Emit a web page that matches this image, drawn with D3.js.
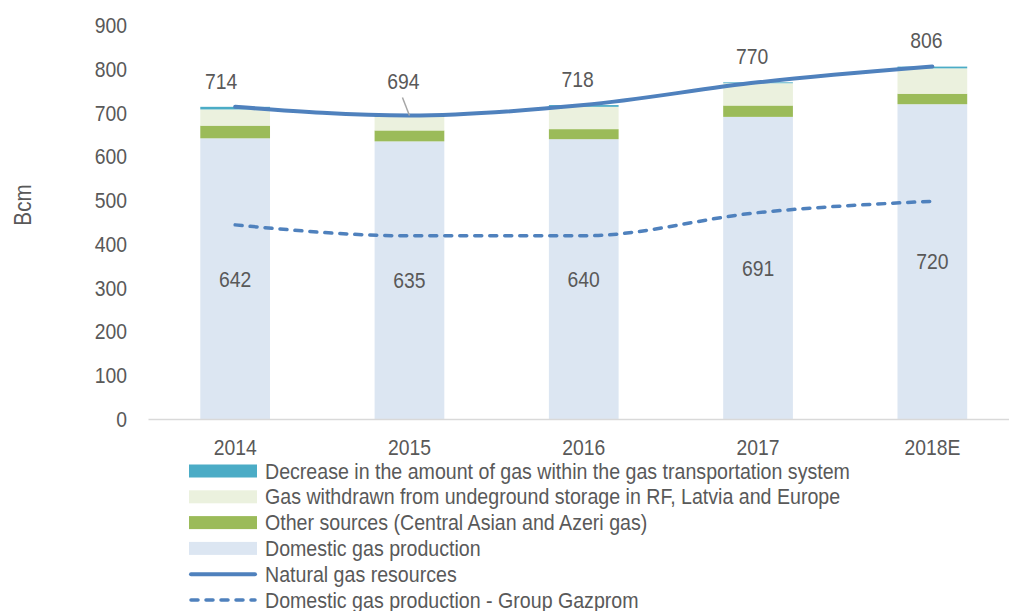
<!DOCTYPE html>
<html>
<head>
<meta charset="utf-8">
<script src="https://cdn.jsdelivr.net/npm/d3@7"></script>
<style>
  body { margin: 0; background: #fff; }
  text { font-family: "Liberation Sans Narrow", "Arial Narrow", "Liberation Sans", sans-serif; fill: #595959; }
</style>
</head>
<body>
<script>

// Chart data (Bcm)
const years = ["2014", "2015", "2016", "2017", "2018E"];
const domesticProduction = [642, 635, 640, 691, 720];
const otherSources = [29, 25, 23, 26, 24];
const storageWithdrawal = [37, 31, 51, 51, 58];
const transportDecrease = [6, 3, 4, 2, 4];
const totalResources = [714, 694, 718, 770, 806];
const gazpromProduction = [444, 419, 419, 472, 498];
const yTicks = [0, 100, 200, 300, 400, 500, 600, 700, 800, 900];

const seriesNames = [
    "Decrease in the amount of gas within the gas transportation system",
    "Gas withdrawn from undeground storage in RF, Latvia and Europe",
    "Other sources (Central Asian and Azeri gas)",
    "Domestic gas production",
    "Natural gas resources",
    "Domestic gas production - Group Gazprom"
];

// Svg size
let width = 1009;
let height = 611;

// Plot area
let plotLeft = 148;
let plotRight = 1019.5;
let plotTop = 25.5;
let plotBottom = 419;

// Narrow look: squeeze text horizontally
let squeeze = 0.86;

const colors = {
    domestic: "#DCE6F2",
    other: "#9BBB59",
    storage: "#EBF1DE",
    decrease: "#4BACC6",
    line: "#4F81BD"
};

const svg = d3.select("body").append("svg")
    .attr("width", width)
    .attr("height", height)
    .attr("viewBox", [0, 0, width, height]);

// Scales
let xScale = d3.scaleBand().domain(years).range([plotLeft, plotRight]).paddingInner(0.6).paddingOuter(0.3);
let yScale = d3.scaleLinear().domain([0, 900]).range([plotBottom, plotTop]);

// Add a squeezed text label at x, y
function addLabel(parent, x, y, str, size, anchor) {
    parent.append("g")
        .attr("transform", `translate(${x}, ${y}) scale(${squeeze}, 1)`)
        .append("text")
        .attr("dy", "0.35em")
        .attr("text-anchor", anchor || "middle")
        .style("font-size", size + "px")
        .text(str);
}

// Stack the bar components, bottom first
const stackKeys = ["domestic", "other", "storage", "decrease"];
const rows = years.map((y, i) => ({
    year: y,
    domestic: domesticProduction[i],
    other: otherSources[i],
    storage: storageWithdrawal[i],
    decrease: transportDecrease[i]
}));
const stacked = d3.stack().keys(stackKeys)(rows);

svg.append("g")
    .selectAll("g")
    .data(stacked)
    .enter()
    .append("g")
    .attr("fill", s => colors[s.key])
    .selectAll("rect")
    .data(s => s)
    .enter()
    .append("rect")
    .attr("x", d => xScale(d.data.year))
    .attr("width", xScale.bandwidth())
    .attr("y", d => yScale(d[1]))
    .attr("height", d => yScale(d[0]) - yScale(d[1]));

// X axis
let xAxis = d3.axisBottom(xScale).tickSize(0).tickPadding(20);
let xAxisRef = svg.append("g")
    .attr("transform", `translate(0, ${plotBottom})`)
    .call(xAxis);
xAxisRef.select(".domain").attr("stroke", "#D9D9D9").attr("stroke-width", 1.5);
xAxisRef.selectAll("text")
    .style("font-size", "22.5px")
    .attr("fill", "#595959")
    .attr("transform", `scale(${squeeze}, 1)`);

// Y axis (labels only)
let yAxis = d3.axisLeft(yScale).tickValues(yTicks).tickSize(0).tickPadding(21);
let yAxisRef = svg.append("g")
    .attr("transform", `translate(${plotLeft}, 0)`)
    .call(yAxis);
yAxisRef.select(".domain").remove();
yAxisRef.selectAll("text")
    .style("font-size", "22.5px")
    .attr("fill", "#595959")
    .attr("x", -21 / squeeze)
    .attr("transform", `scale(${squeeze}, 1)`);

svg.append("text")
    .attr("transform", `translate(23, 205) rotate(-90) scale(${squeeze}, 1)`)
    .attr("text-anchor", "middle")
    .attr("dy", "0.35em")
    .style("font-size", "24px")
    .text("Bcm");

// Lines
let cx = (i) => xScale(years[i]) + xScale.bandwidth() / 2;
let line = d3.line()
    .x((v, i) => cx(i))
    .y(v => yScale(v))
    .curve(d3.curveMonotoneX);

svg.append("path")
    .attr("d", line(gazpromProduction))
    .attr("fill", "none")
    .attr("stroke", colors.line)
    .attr("stroke-width", 3.5)
    .attr("stroke-dasharray", "7,8")
    .attr("stroke-linecap", "round");

svg.append("path")
    .attr("d", line(totalResources))
    .attr("fill", "none")
    .attr("stroke", colors.line)
    .attr("stroke-width", 4)
    .attr("stroke-linecap", "round");

// Value labels inside domestic bars
const innerLabels = svg.append("g");
domesticProduction.forEach((v, i) => {
    addLabel(innerLabels, cx(i), yScale(v / 2), v, 22.5);
});

// Labels above total line
const topLabels = svg.append("g");
totalResources.forEach((v, i) => {
    let dx = i === 0 ? 14 : 6;
    let dy = i === 1 ? 34 : 26;
    addLabel(topLabels, cx(i) - dx, yScale(v) - dy, v, 22.5);
});

// Leader line for the 2015 label
svg.append("line")
    .attr("x1", cx(1) - 7)
    .attr("y1", yScale(totalResources[1]) - 18)
    .attr("x2", cx(1))
    .attr("y2", yScale(totalResources[1]))
    .attr("stroke", "#A6A6A6")
    .attr("stroke-width", 1.5);

// Legend
let legendX = 189;
let legendY = 471;
let legendStep = 25.8;
let swatchW = 68;
const legendItems = [
    {type: "rect", color: colors.decrease},
    {type: "rect", color: colors.storage},
    {type: "rect", color: colors.other},
    {type: "rect", color: colors.domestic},
    {type: "line", color: colors.line},
    {type: "dash", color: colors.line}
];

const legend = svg.append("g");
legendItems.forEach((item, i) => {
    let y = legendY + i * legendStep;
    if (item.type === "rect") {
        legend.append("rect")
            .attr("x", legendX)
            .attr("y", y - 6.5)
            .attr("width", swatchW)
            .attr("height", 13)
            .attr("fill", item.color);
    } else {
        legend.append("line")
            .attr("x1", legendX + 2)
            .attr("x2", legendX + swatchW - 2)
            .attr("y1", y)
            .attr("y2", y)
            .attr("stroke", item.color)
            .attr("stroke-width", item.type === "line" ? 4 : 3.5)
            .attr("stroke-dasharray", item.type === "dash" ? "7,8" : null)
            .attr("stroke-linecap", "round");
    }
    legend.append("g")
        .attr("transform", `translate(${legendX + swatchW + 8}, ${y}) scale(0.912, 1)`)
        .append("text")
        .attr("dy", "0.35em")
        .style("font-size", "21.5px")
        .text(seriesNames[i]);
});

</script>
</body>
</html>
